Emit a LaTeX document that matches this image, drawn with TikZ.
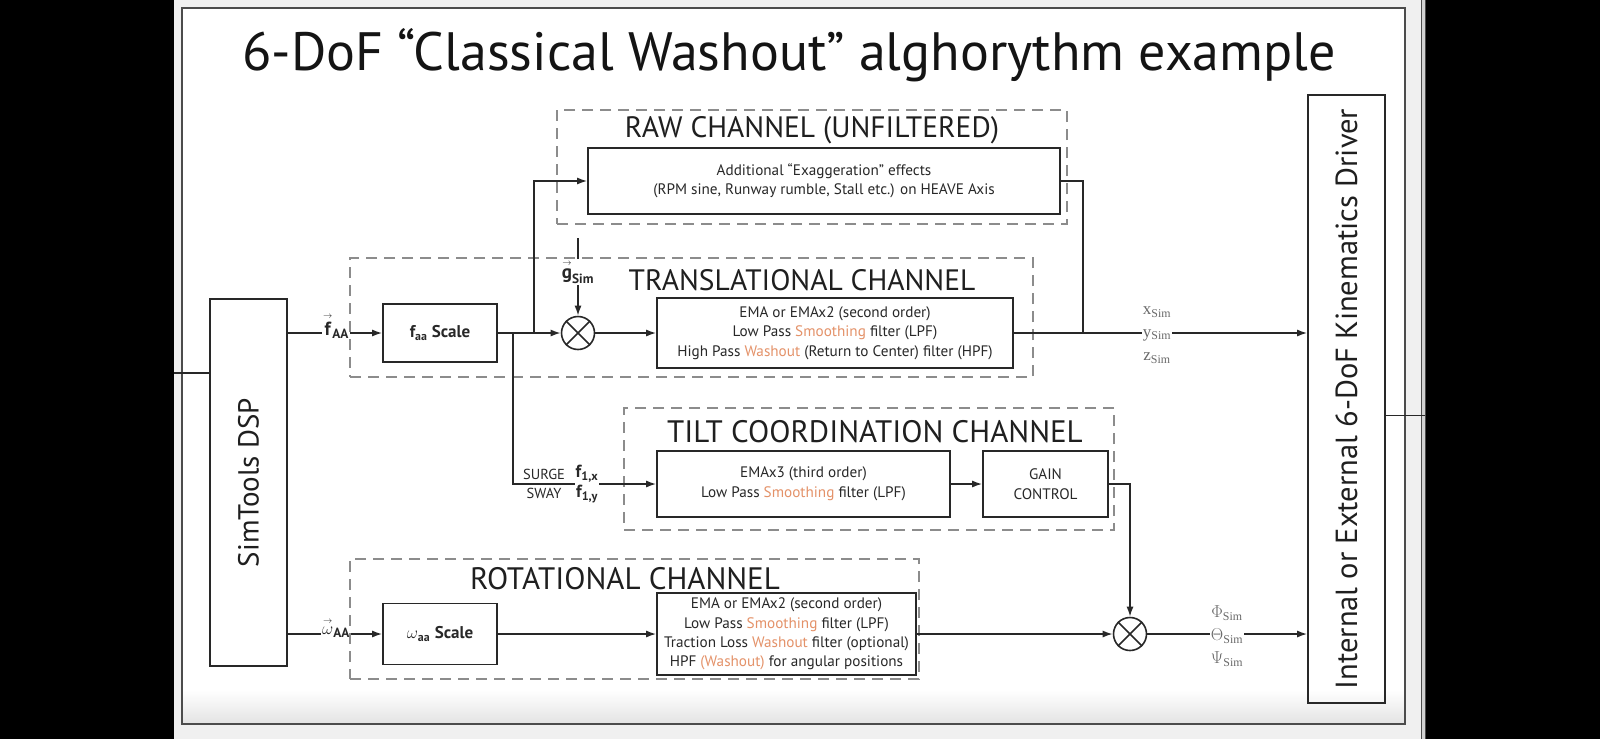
\documentclass[tikz,border=0pt]{standalone}
\usepackage{fontspec}
\usepackage{amsmath}
\setmainfont{PT Sans}
\newfontfamily\lblserif{Liberation Serif}
\usetikzlibrary{arrows.meta}
\definecolor{wash}{RGB}{228,146,105}
\definecolor{txt}{RGB}{40,40,40}
\definecolor{dashc}{RGB}{140,140,140}
\definecolor{lblc}{RGB}{105,105,105}
\begin{document}
\begin{tikzpicture}[x=1pt,y=-1pt,
  blk/.style={draw=txt, line width=1.6pt, text=txt, align=center, inner sep=0pt},
  grp/.style={draw=dashc, line width=1.5pt, dash pattern=on 11pt off 7pt, inner sep=0pt},
  wire/.style={draw=txt, line width=1.6pt},
  arr/.style={wire, -{Latex[length=10pt,width=7pt]}},
  mult/.style={circle, draw=txt, line width=1.6pt, minimum size=33pt, inner sep=0pt},
  chtitle/.style={text=black!88, font=\fontsize{29.5}{31}\selectfont, inner sep=0pt},
  body/.style={font=\fontsize{15.2}{19.5}\selectfont},
  lbl/.style={text=txt, inner sep=1pt, font=\fontsize{19}{21}\selectfont},
  simlbl/.style={text=lblc, inner sep=1pt, font=\lblserif\fontsize{17}{19}\selectfont},
  bigrot/.style={rotate=90, text=black!88, inner sep=0pt}
]
\path[use as bounding box] (0,0) rectangle (1600,739);
% screen background
\fill[black] (0,0) rectangle (1600,739);
\fill[gray!12] (174,0) rectangle (1426,739);
\fill[white] (182,8) rectangle (1405,724);
\shade[top color=white, bottom color=gray!22] (182,690) rectangle (1405,724);
\draw[gray!60!black, line width=1.2pt] (182,8) rectangle (1405,724);
\fill[gray!35] (1421,0) rectangle (1426,739);
\draw[gray!60!black, line width=0.8pt] (1421,0) -- (1421,739);
\draw[gray!60!black, line width=0.8pt] (1425,0) -- (1425,739);

% title
\node[anchor=base, inner sep=0pt, text=black!92, font=\fontsize{54}{58}\selectfont] (title) at (789,70) {6-DoF “Classical Washout” alghorythm example};

% channel groups
\node[grp, minimum width=510pt, minimum height=114pt] (rawg) at (812,167) {};
\node[grp, minimum width=683pt, minimum height=119pt] (transg) at (691.5,317.5) {};
\node[grp, minimum width=490pt, minimum height=122pt] (tiltg) at (869,469) {};
\node[grp, minimum width=569pt, minimum height=120pt] (rotg) at (634.5,619) {};

\node[chtitle] (rawt) at (812,130) {RAW CHANNEL (UNFILTERED)};
\node[chtitle] (transt) at (802,280) {TRANSLATIONAL CHANNEL};
\node[chtitle, font=\fontsize{31}{33}\selectfont] (tiltt) at (875,432) {TILT COORDINATION CHANNEL};
\node[chtitle, font=\fontsize{31}{33}\selectfont] (rott) at (625,579) {ROTATIONAL CHANNEL};

% main blocks
\node[blk, minimum width=77pt, minimum height=367pt] (sim) at (248.5,482.5) {};
\node[bigrot, font=\fontsize{29}{32}\selectfont] (simtxt) at (sim.center) {SimTools DSP};
\node[blk, minimum width=77pt, minimum height=608pt] (drv) at (1346.5,399) {};
\node[bigrot, font=\fontsize{30.5}{34}\selectfont] (drvtxt) at (drv.center) {Internal or External 6-DoF Kinematics Driver};

\node[blk, body, minimum width=472pt, minimum height=66pt] (raw) at (824,181)
  {Additional “Exaggeration” effects\\(RPM sine, Runway rumble, Stall etc.) on HEAVE Axis};
\node[blk, minimum width=114pt, minimum height=58pt, font=\bfseries\fontsize{17}{19}\selectfont] (fscale) at (440,333)
  {f\textsubscript{aa} Scale};
\node[mult] (mul1) at (578,333) {};
\node[blk, body, minimum width=356pt, minimum height=70pt] (trans) at (835,333)
  {EMA or EMAx2 (second order)\\Low Pass \textcolor{wash}{Smoothing} filter (LPF)\\High Pass \textcolor{wash}{Washout} (Return to Center) filter (HPF)};

\node[blk, body, minimum width=293pt, minimum height=66pt] (ema3) at (803.5,484)
  {EMAx3 (third order)\\Low Pass \textcolor{wash}{Smoothing} filter (LPF)};
\node[blk, body, minimum width=125pt, minimum height=66pt] (gain) at (1045.5,484)
  {GAIN\\CONTROL};

\node[blk, minimum width=114pt, minimum height=61pt, font=\fontsize{17}{19}\selectfont] (wscale) at (440,634)
  {$\omega$\textsubscript{\bfseries aa} \textbf{Scale}};
\node[blk, body, minimum width=259pt, minimum height=82pt] (rot) at (786.5,634)
  {EMA or EMAx2 (second order)\\Low Pass \textcolor{wash}{Smoothing} filter (LPF)\\Traction Loss \textcolor{wash}{Washout} filter (optional)\\HPF \textcolor{wash}{(Washout)} for angular positions};
\node[mult] (mul2) at (1130,634) {};

% multiplier crosses
\draw[wire] (mul1.north west) -- (mul1.south east);
\draw[wire] (mul1.north east) -- (mul1.south west);
\draw[wire] (mul2.north west) -- (mul2.south east);
\draw[wire] (mul2.north east) -- (mul2.south west);

% labels
\node[lbl] (fAA) at (336,326) {$\overset{\scriptscriptstyle\rightarrow}{\textbf{f}}_{\textbf{AA}}$};
\node[lbl] (gSim) at (578,272) {$\overset{\scriptscriptstyle\rightarrow}{\textbf{g}}_{\textbf{Sim}}$};
\node[lbl] (wAA) at (336,628) {$\overset{\scriptscriptstyle\rightarrow}{\omega}_{\textbf{AA}}$};
\node[lbl, align=center, font=\fontsize{14.5}{19}\selectfont] (sway) at (544,484) {SURGE\\SWAY};
\node[lbl, align=center, font=\bfseries\fontsize{17.5}{20}\selectfont] (flab) at (587,484) {f\textsubscript{1,x}\\f\textsubscript{1,y}};
\node[simlbl] (xSim) at (1157,312) {x\textsubscript{Sim}};
\node[simlbl] (ySim) at (1157,335) {y\textsubscript{Sim}};
\node[simlbl] (zSim) at (1157,358) {z\textsubscript{Sim}};
\node[simlbl] (Phi) at (1227,613) {$\Phi$\textsubscript{Sim}};
\node[simlbl] (Theta) at (1227,636) {$\Theta$\textsubscript{Sim}};
\node[simlbl] (Psi) at (1227,659) {$\Psi$\textsubscript{Sim}};

% helper coordinates
\coordinate (j1) at (513,333);
\coordinate (j2) at (534,333);
\coordinate (j3) at (1083,333);
\coordinate (gtop) at (578,238);
\coordinate (lstub) at (174,373);
\coordinate (rstub) at (1425,415);

% connectors
\draw[wire] (lstub) -- (sim.west |- lstub);
\draw[wire, line width=1pt] (drv.east |- rstub) -- (rstub);
\draw[wire] (sim.east |- fscale.west) -- (fAA.west |- fscale.west);
\draw[arr] (fAA.east |- fscale.west) -- (fscale.west);
\draw[arr] (fscale.east) -- (mul1.west);
\draw[arr] (j2) |- (raw.west);
\draw[wire] (j1) |- (flab.west);
\draw[arr] (flab.east) -- (ema3.west);
\draw[wire] (gtop) -- (gSim.north);
\draw[arr] (gSim.south) -- (mul1.north);
\draw[arr] (mul1.east) -- (trans.west);
\draw[wire] (trans.east) -- (ySim.west |- trans.east);
\draw[arr] (ySim.east |- trans.east) -- (drv.west |- trans.east);
\draw[wire] (raw.east) -| (j3);
\draw[arr] (ema3.east) -- (gain.west);
\draw[arr] (gain.east) -| (mul2.north);
\draw[wire] (sim.east |- wscale.west) -- (wAA.west |- wscale.west);
\draw[arr] (wAA.east |- wscale.west) -- (wscale.west);
\draw[arr] (wscale.east) -- (rot.west);
\draw[arr] (rot.east) -- (mul2.west);
\draw[wire] (mul2.east) -- (Theta.west |- mul2.east);
\draw[arr] (Theta.east |- mul2.east) -- (drv.west |- mul2.east);
\end{tikzpicture}
\end{document}
